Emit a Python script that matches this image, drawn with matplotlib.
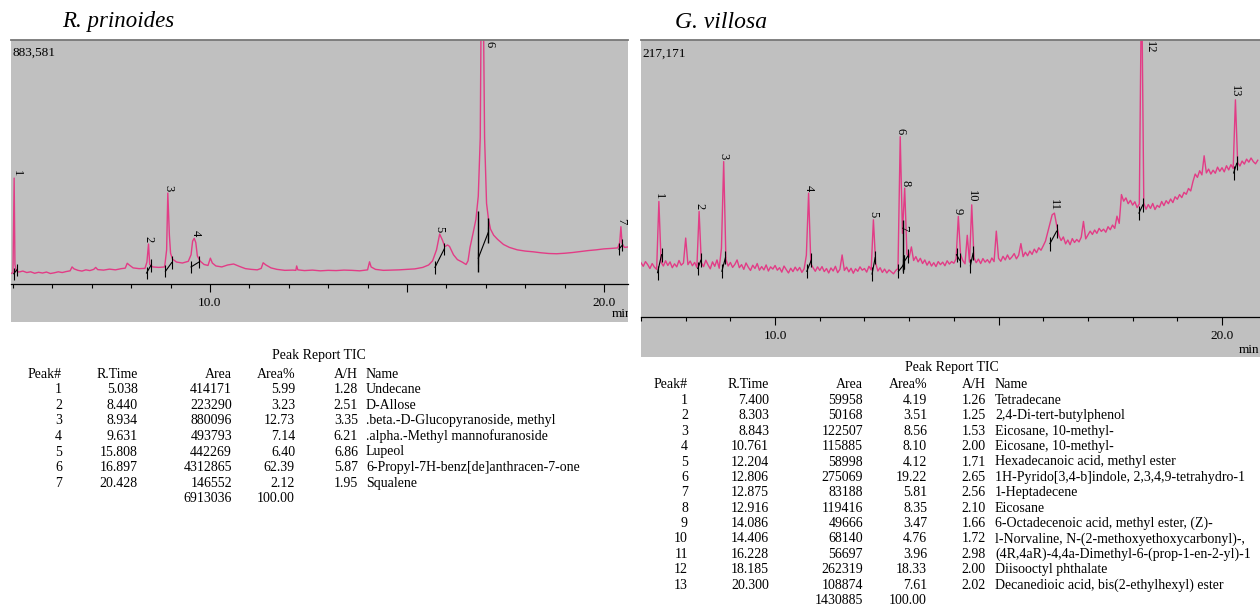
# GC-MS 크로마토그램 두 개 + 피크 리포트 표
import numpy as np
import matplotlib.pyplot as plt

plt.rcParams['font.family'] = ['Liberation Serif', 'DejaVu Serif']

W, H = 1260, 611

# R. prinoides 크로마토그램 (시간 min, 신호 % of full scale)
rp_time = [4.96, 5.00, 5.03, 5.05, 5.08, 5.15, 5.25, 5.35, 5.45, 5.55, 5.65, 5.75, 5.85, 5.95,
           6.05, 6.15, 6.25, 6.35, 6.45, 6.50, 6.55, 6.65, 6.75, 6.85, 6.95, 7.05, 7.10, 7.15,
           7.30, 7.45, 7.60, 7.75, 7.85, 7.90, 7.95, 8.05, 8.20, 8.35, 8.40, 8.44, 8.47, 8.55,
           8.70, 8.85, 8.90, 8.93, 8.97, 9.00, 9.05, 9.15, 9.30, 9.45, 9.52, 9.56, 9.60, 9.64,
           9.68, 9.75, 9.85, 9.95, 10.01, 10.06, 10.15, 10.30, 10.45, 10.60, 10.75, 10.90,
           11.05, 11.20, 11.30, 11.35, 11.42, 11.55, 11.70, 11.90, 12.10, 12.18, 12.20, 12.23,
           12.40, 12.60, 12.80, 13.00, 13.20, 13.40, 13.60, 13.80, 14.00, 14.05, 14.09, 14.20,
           14.40, 14.60, 14.80, 15.00, 15.20, 15.40, 15.55, 15.65, 15.75, 15.83, 15.90, 15.96,
           16.03, 16.08, 16.18, 16.28, 16.40, 16.50, 16.55, 16.60, 16.68, 16.75, 16.81, 16.86,
           16.89, 16.93, 16.97, 17.02, 17.07, 17.12, 17.20, 17.30, 17.45, 17.60, 17.80, 18.00,
           18.20, 18.40, 18.60, 18.80, 19.00, 19.20, 19.40, 19.60, 19.80, 20.00, 20.20, 20.35,
           20.40, 20.43, 20.46, 20.52, 20.62]
rp_signal = [4.4, 4.6, 43.4, 8.0, 5.6, 4.9, 5.3, 4.7, 5.0, 4.4, 4.8, 4.5, 4.9, 4.3,
             4.6, 5.0, 4.7, 5.1, 5.4, 7.0, 6.2, 5.6, 5.3, 5.8, 5.5, 6.0, 6.8, 5.9,
             5.7, 6.1, 5.8, 6.3, 6.5, 8.5, 7.8, 6.6, 6.3, 6.4, 9.0, 16.4, 8.0, 7.0,
             6.8, 7.0, 14.0, 37.3, 20.0, 12.6, 10.2, 9.0, 8.6, 9.3, 12.0, 17.6, 18.7, 17.0,
             11.5, 9.4, 8.0, 7.6, 10.6, 8.6, 7.4, 7.0, 7.8, 8.2, 7.2, 6.3,
             6.0, 5.8, 6.4, 8.7, 7.8, 6.6, 6.0, 5.6, 5.7, 5.6, 7.4, 5.8,
             5.5, 5.7, 5.4, 5.6, 5.5, 5.7, 5.6, 5.4, 5.8, 9.1, 7.0, 6.0,
             5.6, 5.7, 5.8, 6.0, 6.2, 6.8, 7.8, 9.5, 14.0, 20.5, 18.0, 15.3,
             16.0, 15.4, 12.0, 10.0, 9.0, 8.0, 9.5, 15.0, 21.0, 26.5, 36.0, 60.0,
             130.0, 130.0, 60.0, 33.0, 26.5, 22.5, 20.0, 18.3, 16.2, 15.0, 14.0, 13.5,
             13.2, 12.8, 12.5, 12.4, 12.6, 12.9, 13.3, 13.7, 14.0, 14.4, 14.6, 14.8,
             17.0, 23.5, 16.5, 15.0, 15.2]

rp_peak_no = [1, 2, 3, 4, 5, 6, 7]
rp_peak_time = [5.038, 8.440, 8.934, 9.631, 15.808, 16.897, 20.428]
rp_peak_top = [43.4, 16.4, 37.3, 18.7, 20.5, 130.0, 23.5]
# 적분 베이스라인 (시작/끝)
rp_bl_t0 = [5.02, 8.39, 8.87, 9.52, 15.71, 16.81, 20.38]
rp_bl_y0 = [4.2, 4.5, 5.2, 7.0, 6.8, 10.6, 14.3]
rp_bl_t1 = [5.10, 8.50, 9.03, 9.72, 15.95, 17.06, 20.47]
rp_bl_y1 = [5.8, 7.6, 8.8, 9.0, 14.5, 21.0, 16.0]
rp_drop_t = [16.81, 17.06]
rp_drop_lo = [5.0, 17.0]
rp_drop_hi = [30.0, 27.0]

# G. villosa 크로마토그램 (7.00 ~ 20.80 min, 0.05 min 간격)
gv_signal = [
    19.6, 18.3, 20.0, 18.9, 17.5, 19.3, 18.0, 17.2, 41.7, 19.8, 18.4, 20.3, 18.6, 19.9, 17.8, 19.2, 18.1, 20.4, 18.7, 19.5,
    28.5, 18.9, 20.2, 18.5, 19.7, 17.9, 38.1, 19.6, 18.2, 20.5, 18.8, 17.4, 19.9, 18.3, 20.6, 17.6, 24.8, 56.1, 20.8, 18.4,
    19.7, 17.9, 19.0, 20.6, 17.8, 18.9, 17.2, 19.5, 18.0, 16.8, 18.7, 17.5, 19.3, 16.9, 18.2, 17.0, 18.8, 16.6, 18.1, 17.3,
    18.6, 16.9, 17.8, 16.2, 18.4, 17.1, 15.9, 17.6, 16.4, 18.0, 16.7, 17.9, 16.1, 17.4, 22.3, 44.7, 19.2, 17.8, 16.5, 18.1,
    16.8, 18.2, 16.4, 17.5, 15.9, 17.7, 16.6, 18.3, 16.0, 17.2, 22.4, 16.8, 18.0, 16.3, 17.6, 15.8, 17.4, 16.5, 18.1, 16.9,
    17.5, 16.2, 18.3, 17.0, 35.1, 19.4, 16.6, 17.8, 16.1, 17.3, 15.9, 17.0, 16.3, 15.6, 16.8, 17.5, 65.1, 30.2, 46.5, 22.8,
    21.6, 25.3, 20.4, 21.8, 19.9, 21.2, 19.3, 20.6, 18.7, 20.1, 18.4, 19.6, 18.2, 20.0, 18.9, 19.8, 18.5, 20.3, 19.1, 20.0,
    19.4, 21.0, 36.3, 22.6, 20.4, 19.2, 29.5, 19.8, 40.5, 21.4, 19.6, 20.9, 19.3, 21.1, 19.8, 20.7, 19.5, 21.3, 20.0, 31.0,
    21.2, 20.1, 21.9, 20.6, 22.4, 20.8, 21.7, 22.9, 21.0, 22.3, 26.5, 21.8, 23.4, 22.1, 23.8, 22.6, 24.5, 23.2, 25.0, 24.1,
    25.7, 27.4, 30.6, 33.8, 36.9, 37.5, 33.2, 29.4, 27.6, 28.9, 26.4, 27.8, 26.1, 28.3, 26.9, 28.0, 27.1, 28.8, 34.5, 28.2,
    29.6, 31.0, 29.8, 31.4, 30.2, 32.0, 30.9, 31.7, 30.6, 32.6, 31.5, 33.2, 32.0, 36.4, 33.8, 44.2, 41.8, 43.0, 40.9, 42.1,
    40.4, 41.6, 39.5, 40.8, 125.0, 41.2, 38.9, 40.6, 39.2, 41.0, 38.8, 40.3, 39.6, 41.7, 40.2, 42.0, 40.9, 42.6, 41.3, 43.4,
    42.5, 44.2, 43.1, 45.0, 44.3, 46.4, 45.5, 48.9, 51.6, 50.4, 52.8, 51.3, 58.2, 52.0, 53.4, 51.6, 53.0, 51.9, 54.1, 52.6,
    53.9, 52.4, 54.6, 53.1, 55.0, 53.6, 78.4, 55.8, 54.5, 56.3, 55.2, 57.0, 55.9, 57.4, 56.1, 55.3, 56.6]
gv_time = np.round(7.0 + 0.05 * np.arange(len(gv_signal)), 2)

gv_peak_no = list(range(1, 14))
gv_peak_time = [7.400, 8.303, 8.843, 10.761, 12.204, 12.806, 12.875, 12.916, 14.086, 14.406,
                16.228, 18.185, 20.300]
gv_peak_top = [41.7, 38.1, 56.1, 44.7, 35.1, 65.1, 30.2, 46.5, 36.3, 40.5, 37.5, 125.0, 78.4]
gv_bl_t0 = [7.37, 8.27, 8.81, 10.71, 12.17, 12.76, 12.86, 12.89, 14.06, 14.37, 16.15, 18.14, 20.26]
gv_bl_y0 = [16.0, 17.5, 16.5, 16.5, 15.5, 16.5, 18.5, 20.0, 22.5, 18.5, 26.5, 37.5, 52.0]
gv_bl_t1 = [7.46, 8.34, 8.89, 10.81, 12.24, 12.86, 12.89, 12.97, 14.13, 14.43, 16.30, 18.23, 20.33]
gv_bl_y1 = [22.5, 20.5, 21.5, 20.5, 21.5, 18.5, 20.0, 22.0, 20.5, 23.0, 31.0, 40.5, 55.5]
gv_drop_t = [12.86]
gv_drop_lo = [16.5]
gv_drop_hi = [35.0]

# 피크 리포트 표
rp_rtime = ['5.038', '8.440', '8.934', '9.631', '15.808', '16.897', '20.428']
rp_area = ['414171', '223290', '880096', '493793', '442269', '4312865', '146552']
rp_area_pct = ['5.99', '3.23', '12.73', '7.14', '6.40', '62.39', '2.12']
rp_ah = ['1.28', '2.51', '3.35', '6.21', '6.86', '5.87', '1.95']
rp_names = ['Undecane', 'D-Allose', '.beta.-D-Glucopyranoside, methyl',
            '.alpha.-Methyl mannofuranoside', 'Lupeol',
            '6-Propyl-7H-benz[de]anthracen-7-one', 'Squalene']
rp_total = ['6913036', '100.00']

gv_rtime = ['7.400', '8.303', '8.843', '10.761', '12.204', '12.806', '12.875', '12.916',
            '14.086', '14.406', '16.228', '18.185', '20.300']
gv_area = ['59958', '50168', '122507', '115885', '58998', '275069', '83188', '119416',
           '49666', '68140', '56697', '262319', '108874']
gv_area_pct = ['4.19', '3.51', '8.56', '8.10', '4.12', '19.22', '5.81', '8.35', '3.47',
               '4.76', '3.96', '18.33', '7.61']
gv_ah = ['1.26', '1.25', '1.53', '2.00', '1.71', '2.65', '2.56', '2.10', '1.66', '1.72',
         '2.98', '2.00', '2.02']
gv_names = ['Tetradecane', '2,4-Di-tert-butylphenol', 'Eicosane, 10-methyl-',
            'Eicosane, 10-methyl-', 'Hexadecanoic acid, methyl ester',
            '1H-Pyrido[3,4-b]indole, 2,3,4,9-tetrahydro-1', '1-Heptadecene', 'Eicosane',
            '6-Octadecenoic acid, methyl ester, (Z)-',
            'l-Norvaline, N-(2-methoxyethoxycarbonyl)-,',
            '(4R,4aR)-4,4a-Dimethyl-6-(prop-1-en-2-yl)-1', 'Diisooctyl phthalate',
            'Decanedioic acid, bis(2-ethylhexyl) ester']
gv_total = ['1430885', '100.00']

PINK = '#e23c86'
GRAY = '#c0c0c0'


def px(x, y):
    return x / W, 1 - y / H


def draw_chrom(rect, time, signal, xlim, ylim, full_scale, peak_no, peak_t, peak_top,
               t0, y0, t1, y1, drop_t, drop_lo, drop_hi, min_xy):
    ax = fig.add_axes(rect)
    ax.set_facecolor(GRAY)
    ax.plot(time, signal, color=PINK, lw=1.0)

    # 적분 마커
    for a, b, c, d in zip(t0, y0, t1, y1):
        ax.plot([a, c], [b, d], color='black', lw=0.8)
        ax.vlines([a, c], [b - 2.5, d - 2.5], [b + 2.5, d + 2.5], color='black', lw=0.8)
    ax.vlines(drop_t, drop_lo, drop_hi, color='black', lw=1.0)

    # 피크 번호
    for n, t, top in zip(peak_no, peak_t, peak_top):
        if top >= 99:
            ax.text(t + 0.2, 99.5, str(n), rotation=-90, ha='center', va='top', fontsize=9)
        else:
            x = max(t, xlim[0] + 0.15)
            ax.text(x, top + 0.8, str(n), rotation=-90, ha='center', va='bottom', fontsize=9)

    ax.text(0.003, 0.975, full_scale, transform=ax.transAxes, ha='left', va='top', fontsize=9.5)
    ax.text(min_xy[0], min_xy[1], 'min', fontsize=9.5, ha='left', va='center', clip_on=True)

    for s in ['left', 'right']:
        ax.spines[s].set_visible(False)
    ax.spines['top'].set_color('#777777')
    ax.spines['top'].set_linewidth(1.3)
    ax.spines['bottom'].set_position(('data', 0))
    ax.spines['bottom'].set_linewidth(0.9)
    ax.set_yticks([])
    ax.set_xticks([10, 15, 20])
    ax.set_xticklabels(['10.0', '', '20.0'])
    minor = np.arange(np.ceil(xlim[0]), xlim[1])
    ax.set_xticks(minor, minor=True)
    ax.tick_params(axis='x', which='major', length=6, width=0.8, labelsize=9.5, pad=3)
    ax.tick_params(axis='x', which='minor', length=3, width=0.8)
    # 눈금 설정 뒤에 범위 고정
    ax.set_xlim(xlim)
    ax.set_ylim(ylim)
    return ax


def draw_table(xc, title_xy, y_head, dy, rtime, area, pct, ah, names, total):
    fs = 10
    fig.text(*px(*title_xy), 'Peak Report TIC', ha='center', va='center', fontsize=fs)
    heads = ['Peak#', 'R.Time', 'Area', 'Area%', 'A/H']
    for h, x in zip(heads, xc[:5]):
        fig.text(*px(x, y_head), h, ha='right', va='center', fontsize=fs)
    fig.text(*px(xc[5], y_head), 'Name', ha='left', va='center', fontsize=fs)
    for i in range(len(rtime)):
        y = y_head + dy * (i + 1)
        row = [str(i + 1), rtime[i], area[i], pct[i], ah[i]]
        for v, x in zip(row, xc[:5]):
            fig.text(*px(x, y), v, ha='right', va='center', fontsize=fs)
        fig.text(*px(xc[5], y), names[i], ha='left', va='center', fontsize=fs)
    y = y_head + dy * (len(rtime) + 1)
    fig.text(*px(xc[2], y), total[0], ha='right', va='center', fontsize=fs)
    fig.text(*px(xc[3], y), total[1], ha='right', va='center', fontsize=fs)


fig = plt.figure(figsize=(W / 100, H / 100), dpi=100)

# 왼쪽: 0 at y=284px, 100 at y=40px
draw_chrom([11 / W, 1 - 322 / H, 617 / W, 282 / H], rp_time, rp_signal,
           (4.95, 20.61), (-15.57, 100), '883,581',
           rp_peak_no, rp_peak_time, rp_peak_top,
           rp_bl_t0, rp_bl_y0, rp_bl_t1, rp_bl_y1, rp_drop_t, rp_drop_lo, rp_drop_hi,
           (20.2, -12.3))

# 오른쪽: 0 at y=317px, 100 at y=40px
draw_chrom([641 / W, 1 - 357 / H, 619 / W, 317 / H], gv_time, gv_signal,
           (7.0, 20.85), (-14.44, 100), '217,171',
           gv_peak_no, gv_peak_time, gv_peak_top,
           gv_bl_t0, gv_bl_y0, gv_bl_t1, gv_bl_y1, gv_drop_t, gv_drop_lo, gv_drop_hi,
           (20.38, -11.9))

fig.text(*px(62, 22), 'R. prinoides', style='italic', fontsize=16.5, ha='left', va='center')
fig.text(*px(675, 22), 'G. villosa', style='italic', fontsize=17, ha='left', va='center')

draw_table([62, 138, 232, 295, 358, 366], (319, 356), 374, 15.6,
           rp_rtime, rp_area, rp_area_pct, rp_ah, rp_names, rp_total)
draw_table([688, 769, 863, 927, 986, 995], (952, 368), 385, 15.4,
           gv_rtime, gv_area, gv_area_pct, gv_ah, gv_names, gv_total)

plt.savefig('out.png', dpi=100)
